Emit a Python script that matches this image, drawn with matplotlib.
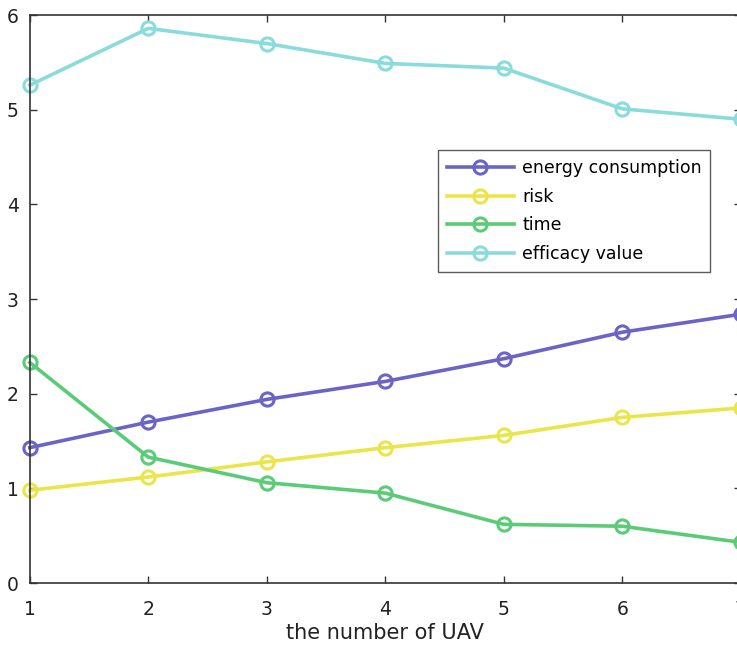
import matplotlib
matplotlib.use("Agg")
import matplotlib.pyplot as plt

x = [1, 2, 3, 4, 5, 6, 7]
energy = [1.43, 1.70, 1.94, 2.13, 2.37, 2.65, 2.84]
risk = [0.98, 1.12, 1.28, 1.43, 1.56, 1.75, 1.85]
time_ = [2.33, 1.33, 1.06, 0.95, 0.62, 0.60, 0.43]
efficacy = [5.26, 5.86, 5.70, 5.49, 5.44, 5.01, 4.90]
labels = ["energy consumption", "risk", "time", "efficacy value"]
colors = ["#6b64c8", "#e9e54a", "#5ccb78", "#8adbdb"]
xticks = [1, 2, 3, 4, 5, 6, 7]
yticks = [0, 1, 2, 3, 4, 5, 6]

plt.rcParams['font.family'] = ['DejaVu Sans']

fig = plt.figure(figsize=(7.37, 6.55), dpi=100)
ax = fig.add_axes([0.0404, 0.1099, 0.9647, 0.867])

for ys, lab, c in zip([energy, risk, time_, efficacy], labels, colors):
    ax.plot(x, ys, color=c, lw=2.6, marker='o', ms=9.5, mfc='none',
            mec=c, mew=2.2, label=lab, clip_on=False)

ax.set_xlim(1, 7)
ax.set_ylim(0, 6)
ax.set_xticks(xticks)
ax.set_yticks(yticks)
ax.tick_params(direction='in', top=True, right=True, length=5, width=1,
               color='#333333', labelsize=13.5, labelcolor='#222222')
ax.tick_params(axis='x', pad=12)
ax.tick_params(axis='y', pad=8)
for s in ax.spines.values():
    s.set_color('#333333')
    s.set_linewidth(1.2)
ax.set_xlabel("the number of UAV", fontsize=15, color='#222222', labelpad=3)

leg = ax.legend(loc='upper left', bbox_to_anchor=(0.574, 0.762), fontsize=12.5,
                frameon=True, fancybox=False, edgecolor='#333333',
                handlelength=3.9, borderpad=0.5, labelspacing=0.62,
                handletextpad=0.45, borderaxespad=0)
leg.get_frame().set_linewidth(1.0)

fig.savefig("out.png", dpi=100)
